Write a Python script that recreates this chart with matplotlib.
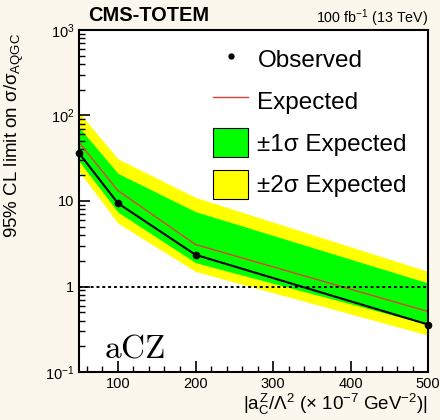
import numpy as np
import matplotlib.pyplot as plt
from matplotlib.lines import Line2D
from matplotlib.patches import Patch

plt.rcParams['font.family'] = ['Liberation Sans', 'DejaVu Sans']
plt.rcParams['mathtext.fontset'] = 'custom'
plt.rcParams['mathtext.rm'] = 'Liberation Sans'
plt.rcParams['mathtext.it'] = 'Liberation Sans'

# coupling values and limits
coupling = [50, 100, 200, 500]
observed = [36, 9.4, 2.35, 0.36]
expected = [48, 13.2, 3.1, 0.51]
sig1_lo = [29, 7.4, 1.9, 0.36]
sig1_hi = [72, 21, 7.5, 1.1]
sig2_lo = [22, 5.5, 1.5, 0.27]
sig2_hi = [108, 31, 11, 1.5]

ytick_vals = [0.1, 1, 10, 100, 1000]
ytick_labels = [r'$10^{-1}$', '1', '10', r'$10^{2}$', r'$10^{3}$']
xtick_vals = [100, 200, 300, 400, 500]

bg = '#fcf7ec'
fig = plt.figure(figsize=(4.4, 4.2), dpi=100, facecolor=bg)
ax = fig.add_axes([0.18, 0.114, 0.793, 0.815])

ax.fill_between(coupling, sig2_lo, sig2_hi, color='#ffff00', lw=0)
ax.fill_between(coupling, sig1_lo, sig1_hi, color='#00ff00', lw=0)
ax.plot(coupling, expected, color='#e0403a', lw=1)
ax.plot(coupling, observed, color='black', lw=1.5, marker='o', ms=4.5, clip_on=False, zorder=5)
ax.axhline(1, color='black', ls=(0, (1.5, 1.5)), lw=1.4)

ax.set_yscale('log')
ax.set_xlim(50, 500)
ax.set_ylim(0.1, 1000)
ax.set_yticks(ytick_vals)
ax.set_yticklabels(ytick_labels)
ax.set_xticks(xtick_vals)
ax.set_xticks(np.arange(60, 500, 20), minor=True)
ax.tick_params(which='both', direction='in', top=False, right=False, labelsize=10.5)
ax.tick_params(which='major', length=8, width=1.2)
ax.tick_params(which='minor', length=4, width=1)
for s in ax.spines.values():
    s.set_linewidth(1.5)

ax.set_ylabel(r'95% CL limit on $\sigma/\sigma_{AQGC}$', fontsize=13.5)
ax.yaxis.set_label_coords(-0.152, 0.69)
ax.set_xlabel(r'$|a_C^Z/\Lambda^2$ $(\times$ $10^{-7}$ GeV$^{-2})|$', fontsize=13.5, loc='right', labelpad=1)

fig.text(0.2, 0.95, 'CMS-TOTEM', fontsize=14.4, fontweight='bold', ha='left')
fig.text(0.973, 0.945, r'100 fb$^{-1}$ (13 TeV)', fontsize=10.3, ha='right')

ax.text(0.07, 0.044, r'$\mathrm{aCZ}$', transform=ax.transAxes, fontsize=24,
        math_fontfamily='cm')

handles = [
    Line2D([], [], color='black', marker='o', ms=3.5, ls='none'),
    Line2D([], [], color='#e0403a', lw=1),
    Patch(facecolor='#00ff00', edgecolor='black', lw=0.8),
    Patch(facecolor='#ffff00', edgecolor='black', lw=0.8),
]
labels = ['Observed', 'Expected', u'\u00b11\u03c3 Expected', u'\u00b12\u03c3 Expected']
ax.legend(handles, labels, loc='upper left', bbox_to_anchor=(0.384, 0.958), frameon=False,
          fontsize=17.5, handlelength=1.45, handleheight=1.5, labelspacing=0.5,
          handletextpad=0.37, borderaxespad=0, borderpad=0)

fig.savefig('out.png', dpi=100, facecolor=bg)
